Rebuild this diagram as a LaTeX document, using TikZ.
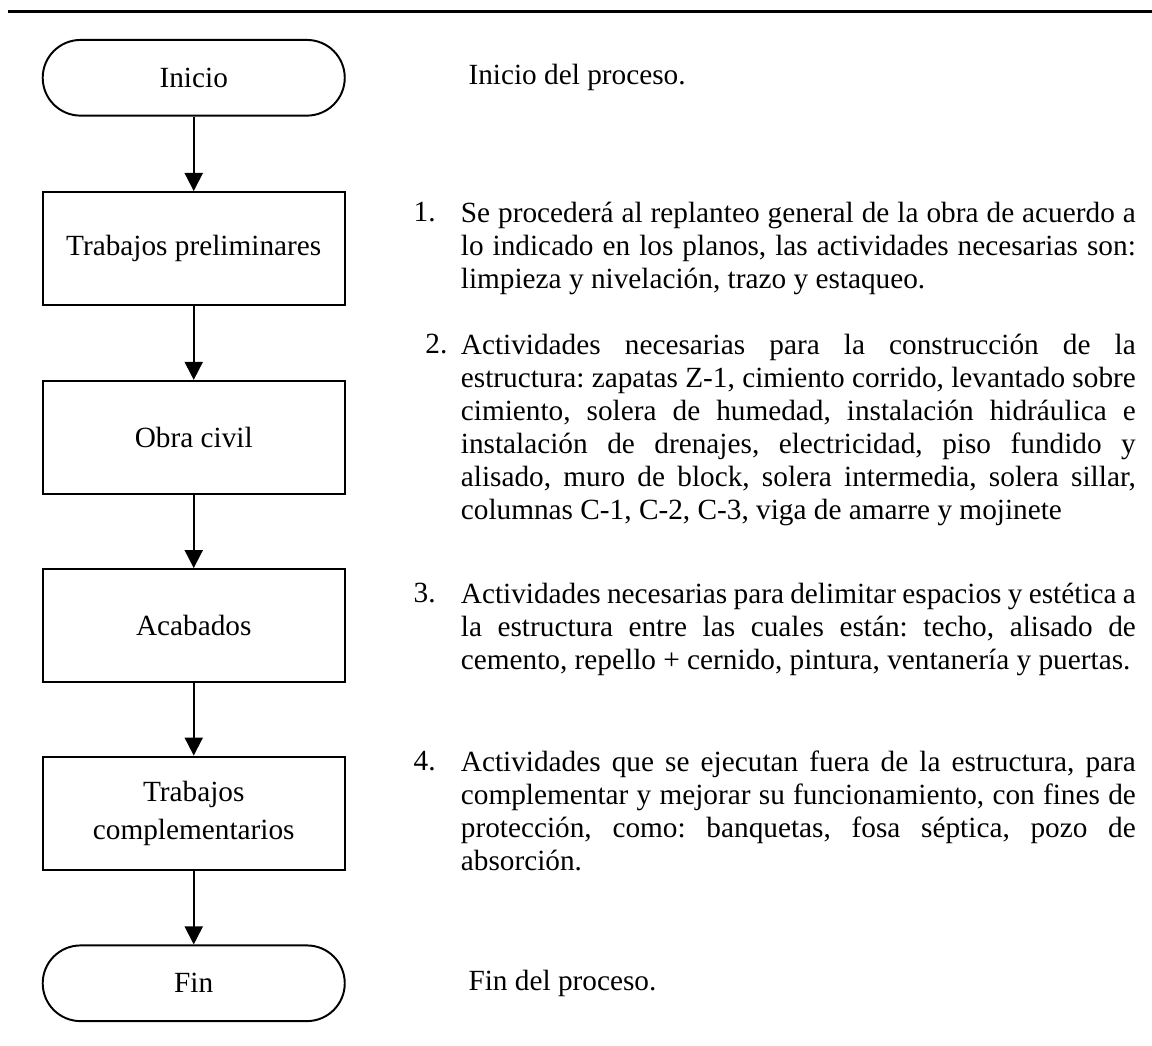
\documentclass[tikz,border=0pt]{standalone}
\usepackage{fontspec}
\setmainfont{Liberation Serif}
\usepackage{tikz}
\usetikzlibrary{shapes,arrows.meta,positioning,calc}

\frenchspacing
\newcommand{\parafont}{\fontsize{12}{13.5}\selectfont\hyphenpenalty=10000\relax\spaceskip=0.25em plus 0.6em minus 0.16em\relax}

\begin{document}
\begin{tikzpicture}[
    node distance=0.5cm,
    box/.style={rectangle, draw, line width=0.8pt, minimum width=4.35cm, minimum height=1.63cm, align=center, font=\fontsize{12}{15.5}\selectfont},
    termbox/.style={rectangle, rounded corners=0.545cm, draw, line width=0.8pt, minimum width=4.35cm, minimum height=1.09cm, align=center, font=\fontsize{12}{14}\selectfont},
    desc/.style={anchor=north west, text width=9.72cm, align=justify, inner sep=0pt, font=\parafont},
    num/.style={anchor=north west, inner sep=0pt, font=\fontsize{12}{13.5}\selectfont},
    note/.style={anchor=west, inner sep=0pt, font=\fontsize{12}{14}\selectfont},
    arrow/.style={-{Triangle[length=0.26cm, width=0.26cm]}, line width=0.8pt},
]
    \useasboundingbox (0,0) rectangle (16.59,-15.06);
    \draw[line width=1.2pt] (0.12,-0.17) -- (16.59,-0.17);

    % flowchart column
    \node[termbox] (inicio) at (2.79,-1.12) {Inicio};
    \node[box] (prelim) at (2.79,-3.58) {Trabajos preliminares};
    \node[box] (obra) at (2.79,-6.30) {Obra civil};
    \node[box] (acab) at (2.79,-9.01) {Acabados};
    \node[box] (compl) at (2.79,-11.71) {Trabajos\\complementarios};
    \node[termbox] (fin) at (2.79,-14.16) {Fin};

    \draw[arrow] (inicio) -- (prelim);
    \draw[arrow] (prelim) -- (obra);
    \draw[arrow] (obra) -- (acab);
    \draw[arrow] (acab) -- (compl);
    \draw[arrow] (compl) -- (fin);

    % descriptions
    \node[note] (t0) at (6.74,-1.12) {Inicio del proceso.};
    \node[num] (n1) at (5.95,-2.91) {1.};
    \node[desc] (t1) at (6.63,-2.91) {Se procederá al replanteo general de la obra de acuerdo a\linebreak lo indicado en los planos, las actividades necesarias son:\linebreak limpieza y nivelación, trazo y estaqueo.};
    \node[num] (n2) at (6.12,-4.81) {2.};
    \node[desc] (t2) at (6.63,-4.81) {Actividades necesarias para la construcción de la\linebreak estructura: zapatas Z-1, cimiento corrido, levantado sobre\linebreak cimiento, solera de humedad, instalación hidráulica e\linebreak instalación de drenajes, electricidad, piso fundido y\linebreak alisado, muro de block, solera intermedia, solera sillar,\linebreak columnas C-1, C-2, C-3, viga de amarre y mojinete};
    \node[num] (n3) at (5.95,-8.39) {3.};
    \node[desc] (t3) at (6.63,-8.39) {Actividades necesarias para delimitar espacios y estética a\linebreak la estructura entre las cuales están: techo, alisado de\linebreak cemento, repello + cernido, pintura, ventanería y puertas.};
    \node[num] (n4) at (5.95,-10.81) {4.};
    \node[desc] (t4) at (6.63,-10.81) {Actividades que se ejecutan fuera de la estructura, para\linebreak complementar y mejorar su funcionamiento, con fines de\linebreak protección, como: banquetas, fosa séptica, pozo de\linebreak absorción.};
    \node[note] (t5) at (6.74,-14.16) {Fin del proceso.};
\end{tikzpicture}
\end{document}
